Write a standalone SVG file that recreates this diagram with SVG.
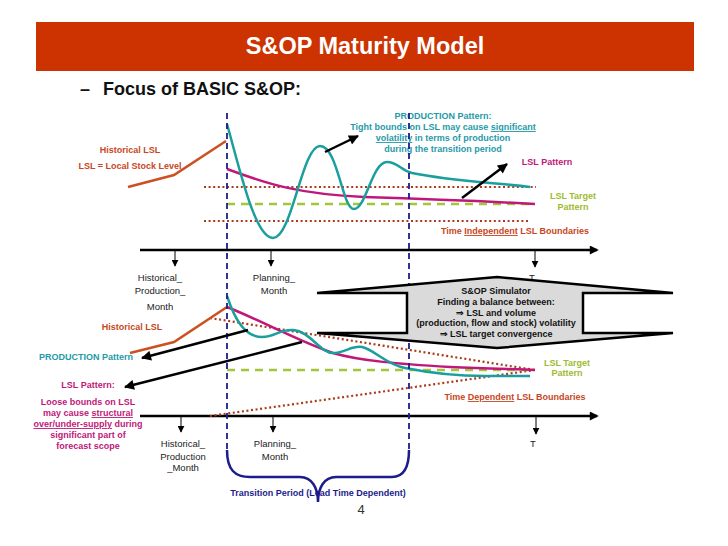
<svg xmlns="http://www.w3.org/2000/svg" width="728" height="546" viewBox="0 0 728 546">
<defs>
<style>
text{font-family:"Liberation Sans",Arial,sans-serif}
.b{font-weight:bold;font-size:9px}
.ax{font-size:9.5px;fill:#222}
.teal{fill:#1F9AA8}
.mag{fill:#C0187A}
.org{fill:#C8461E}
.grn{fill:#9DBB2E}
.navy{fill:#1C1C8C}
.blk{fill:#111}
.u{text-decoration:underline}
.hist{fill:none;stroke:#CC5020;stroke-width:2.5}
.prod{fill:none;stroke:#1A9E9E;stroke-width:2.5}
.lsl{fill:none;stroke:#C0187A;stroke-width:2.5}
.dot{fill:none;stroke:#A93A1A;stroke-width:2.2;stroke-dasharray:2 2.6}
.tgt{fill:none;stroke:#A4C639;stroke-width:2.5;stroke-dasharray:8 6}
.vd{fill:none;stroke:#1C1C8C;stroke-width:1.8;stroke-dasharray:6 4}
.axis{fill:none;stroke:#000;stroke-width:2.5;marker-end:url(#ahAxis)}
.tick{fill:none;stroke:#000;stroke-width:1;marker-end:url(#ahTick)}
.ptr{fill:none;stroke:#000;stroke-width:2.5;marker-end:url(#ahPtr)}
</style>
<marker id="ahPtr" viewBox="0 0 10 10" refX="9" refY="5" markerWidth="11" markerHeight="10" markerUnits="userSpaceOnUse" orient="auto"><path d="M0,0 L10,5 L0,10 z" fill="#000"/></marker>
<marker id="ahTick" viewBox="0 0 10 10" refX="9" refY="5" markerWidth="7" markerHeight="7" markerUnits="userSpaceOnUse" orient="auto"><path d="M0,0 L10,5 L0,10 z" fill="#000"/></marker>
<marker id="ahAxis" viewBox="0 0 10 10" refX="8" refY="5" markerWidth="10" markerHeight="9" markerUnits="userSpaceOnUse" orient="auto"><path d="M0,0 L10,5 L0,10 z" fill="#000"/></marker>
</defs>
<rect width="728" height="546" fill="#fff"/>

<g id="header">
<rect x="36" y="22" width="658" height="49" fill="#CC3300"/>
<text x="365" y="54" text-anchor="middle" font-size="23.5" font-weight="bold" fill="#fff">S&amp;OP Maturity Model</text>
<text x="80" y="95" font-size="18" font-weight="bold" fill="#111">–</text>
<text x="103" y="95" font-size="18" font-weight="bold" fill="#111">Focus of BASIC S&amp;OP:</text>
</g>

<g id="top-chart">
<line class="axis" x1="140" y1="250" x2="597" y2="250"/>
<line class="tick" x1="175" y1="251" x2="175" y2="266"/>
<line class="tick" x1="271" y1="251" x2="271" y2="266"/>
<line class="tick" x1="535" y1="251" x2="535" y2="267"/>
<text class="ax" x="160" y="281" text-anchor="middle">Historical_</text>
<text class="ax" x="160" y="294" text-anchor="middle">Production_</text>
<text class="ax" x="160" y="310" text-anchor="middle">Month</text>
<text class="ax" x="274" y="281" text-anchor="middle">Planning_</text>
<text class="ax" x="274" y="294" text-anchor="middle">Month</text>
<text class="ax" x="532" y="281" text-anchor="middle">T</text>
<line class="dot" x1="204" y1="187" x2="536" y2="187"/>
<line class="dot" x1="204" y1="221" x2="530" y2="221"/>
<line class="tgt" x1="227" y1="204" x2="530" y2="204"/>
<polyline class="hist" points="128,187 174,175 226,141"/>
<path class="lsl" d="M227,169 C270,185 300,194 364,197 C430,199 480,201 535,204"/>
<path class="prod" d="M227,124 C240,170 255,238 273,238 C292,238 302,146 320,146 C338,146 342,209 354,209 C366,209 372,162 387,162 C398,162 400,170 412,173 C450,181 500,183 530,187"/>
<text class="b org" x="130" y="153" text-anchor="middle">Historical LSL</text>
<text class="b org" x="130" y="169" text-anchor="middle">LSL = Local Stock Level</text>
<text class="b teal" x="443" y="119" text-anchor="middle">PRODUCTION Pattern:</text>
<text class="b teal" x="443" y="130" text-anchor="middle">Tight bounds on LSL may cause <tspan class="u">significant </tspan></text>
<text class="b teal" x="443" y="141" text-anchor="middle"><tspan class="u">volatility</tspan> in terms of production</text>
<text class="b teal" x="443" y="152" text-anchor="middle">during the transition period</text>
<text class="b mag" x="547" y="165" text-anchor="middle">LSL Pattern</text>
<text class="b grn" x="573" y="199" text-anchor="middle">LSL Target</text>
<text class="b grn" x="573" y="210" text-anchor="middle">Pattern</text>
<text class="b org" x="515" y="234" text-anchor="middle">Time <tspan class="u">Independent</tspan> LSL Boundaries</text>
</g>

<g id="bottom-chart">
<line class="axis" x1="140" y1="416" x2="597" y2="416"/>
<line class="tick" x1="181" y1="417" x2="181" y2="432"/>
<line class="tick" x1="273" y1="417" x2="273" y2="432"/>
<line class="tick" x1="536" y1="417" x2="536" y2="434"/>
<text class="ax" x="183" y="447" text-anchor="middle">Historical_</text>
<text class="ax" x="183" y="460" text-anchor="middle">Production</text>
<text class="ax" x="183" y="471" text-anchor="middle">_Month</text>
<text class="ax" x="275" y="447" text-anchor="middle">Planning_</text>
<text class="ax" x="275" y="460" text-anchor="middle">Month</text>
<text class="ax" x="533" y="447" text-anchor="middle">T</text>
<line class="dot" x1="210" y1="318" x2="535" y2="370"/>
<line class="dot" x1="210" y1="416" x2="535" y2="370"/>
<line class="tgt" x1="227" y1="370" x2="530" y2="370"/>
<polyline class="hist" points="130,353 174,342 227,307"/>
<path class="lsl" d="M227,307 C260,320 300,342 333,353 C360,361 400,364 450,367 C490,369 515,369 535,370"/>
<path class="prod" d="M227,296 C235,320 245,337 262,337 C275,337 280,329 293,330 C310,331 320,353 333,353 C345,353 352,345 362,347 C375,350 385,364 405,368 C430,373 460,376 485,376 L530,376"/>
<text class="b org" x="132" y="330" text-anchor="middle">Historical LSL</text>
<text class="b teal" x="86" y="360" text-anchor="middle">PRODUCTION Pattern</text>
<text class="b mag" x="88" y="388" text-anchor="middle">LSL Pattern:</text>
<text class="b mag" x="88" y="405" text-anchor="middle">Loose bounds on LSL</text>
<text class="b mag" x="88" y="416" text-anchor="middle">may cause <tspan class="u">structural</tspan></text>
<text class="b mag" x="88" y="427" text-anchor="middle"><tspan class="u">over/under-supply</tspan> during</text>
<text class="b mag" x="88" y="438" text-anchor="middle">significant part of</text>
<text class="b mag" x="88" y="449" text-anchor="middle">forecast scope</text>
<text class="b grn" x="567" y="366" text-anchor="middle">LSL Target</text>
<text class="b grn" x="567" y="376" text-anchor="middle">Pattern</text>
<text class="b org" x="515" y="400" text-anchor="middle">Time <tspan class="u">Dependent</tspan> LSL Boundaries</text>
</g>

<g id="transition-period">
<line class="vd" x1="227" y1="113" x2="227" y2="452"/>
<line class="vd" x1="409" y1="113" x2="409" y2="452"/>
<path d="M227,450 C227,470 235,477 250,477 L300,477 C312,477 318,488 318,502 C318,488 324,477 336,477 L392,477 C402,477 409,470 409,450" fill="none" stroke="#1C1C8C" stroke-width="2.5"/>
<text class="b navy" x="318" y="496" text-anchor="middle">Transition Period (Lead Time Dependent)</text>
</g>

<g id="connectors">
<line class="ptr" x1="325" y1="152" x2="358" y2="136"/>
<line class="ptr" x1="462" y1="198" x2="507" y2="164"/>
<line class="ptr" x1="248" y1="330" x2="142" y2="358"/>
<line class="ptr" x1="302" y1="342" x2="125" y2="387"/>
</g>

<g id="simulator">
<path d="M317,293 L407,293 L407,333 L317,333 L497,348 L673,333 L583,333 L583,293 L673,293 L497,277 Z" fill="#DADADA" stroke="#000" stroke-width="2.5" stroke-linejoin="miter"/>
<text class="b blk" x="496" y="294" text-anchor="middle">S&amp;OP Simulator</text>
<text class="b blk" x="496" y="305" text-anchor="middle">Finding a balance between:</text>
<text class="b blk" x="496" y="316" text-anchor="middle">⇒ LSL and volume</text>
<text class="b blk" x="496" y="326" text-anchor="middle">(production, flow and stock) volatility</text>
<text class="b blk" x="496" y="337" text-anchor="middle">⇒ LSL target convergence</text>
</g>

<text x="361" y="514" text-anchor="middle" font-size="13" fill="#333">4</text>
</svg>
